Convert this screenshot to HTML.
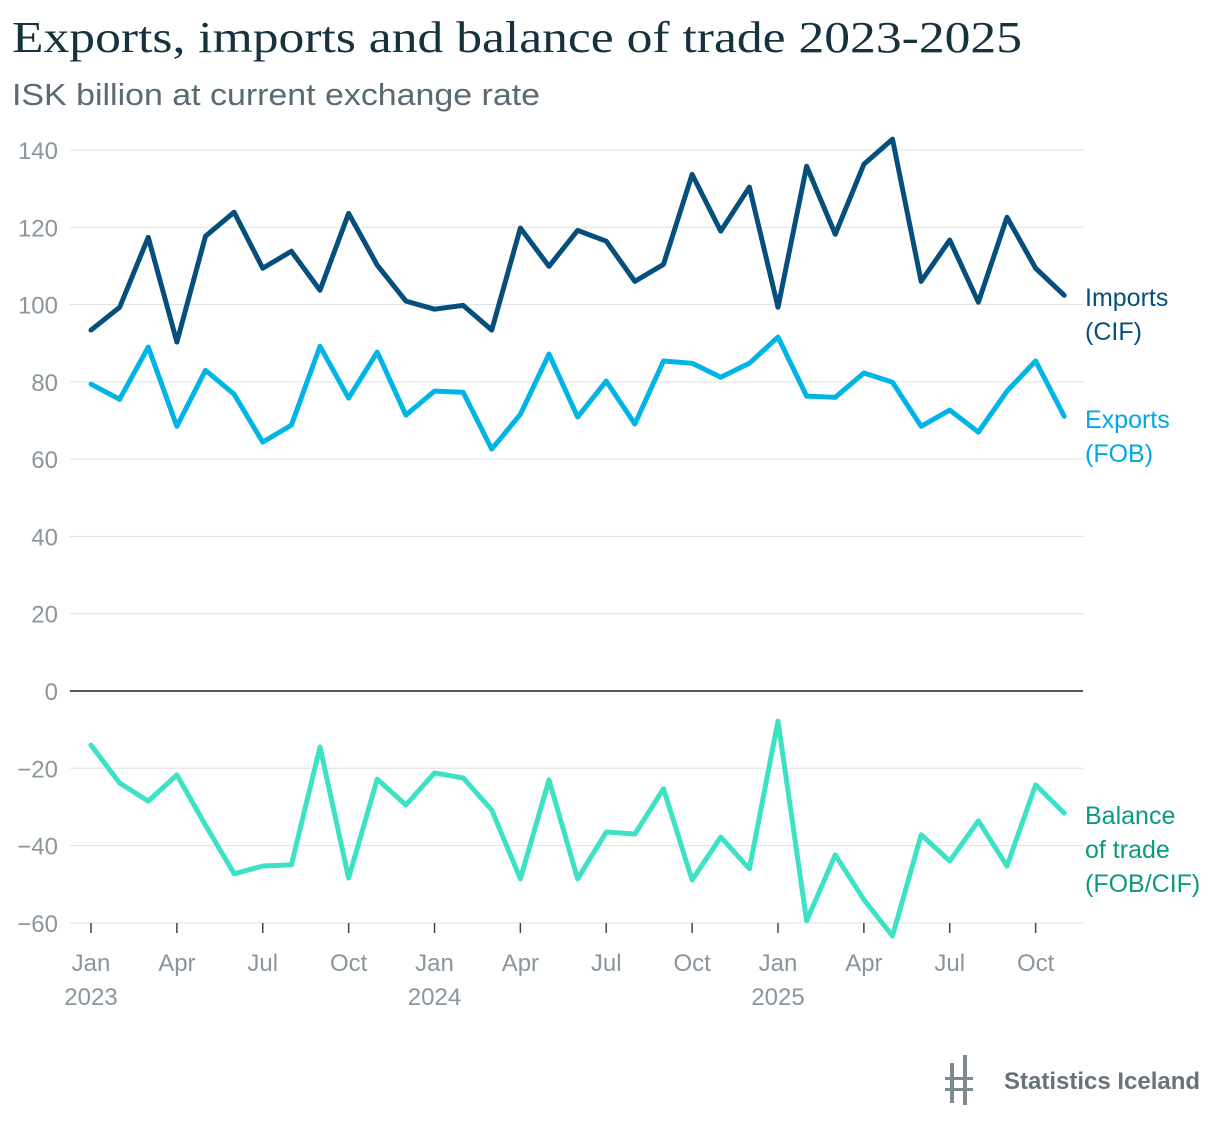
<!DOCTYPE html>
<html><head><meta charset="utf-8">
<style>
body{margin:0;background:#fff;width:1220px;height:1130px;overflow:hidden;font-family:"Liberation Sans",sans-serif}
</style></head><body>
<svg id="chart" width="1220" height="1130" xmlns="http://www.w3.org/2000/svg">
<text x="12" y="52" font-family="Liberation Serif, serif" font-size="44" fill="#17323f" textLength="1010" lengthAdjust="spacingAndGlyphs">Exports, imports and balance of trade 2023-2025</text>
<text x="12" y="105" font-size="31" fill="#5a6a72" textLength="528" lengthAdjust="spacingAndGlyphs">ISK billion at current exchange rate</text>
<g id="grid"></g><g id="xaxis"></g><g id="series"></g>
<g>
<rect x="950" y="1063" width="4" height="40" fill="#7d8a90"/><rect x="963" y="1055" width="4" height="50" fill="#7d8a90"/>
<rect x="945" y="1077" width="28" height="3" fill="#7d8a90"/><rect x="945" y="1088" width="28" height="3" fill="#7d8a90"/>
<text x="1004" y="1089" font-size="24" fill="#66737a" font-weight="bold">Statistics Iceland</text>
</g>
</svg>
<script>
const categories=["2023-01","2023-02","2023-03","2023-04","2023-05","2023-06","2023-07","2023-08","2023-09","2023-10","2023-11","2023-12","2024-01","2024-02","2024-03","2024-04","2024-05","2024-06","2024-07","2024-08","2024-09","2024-10","2024-11","2024-12","2025-01","2025-02","2025-03","2025-04","2025-05","2025-06","2025-07","2025-08","2025-09","2025-10","2025-11"];
const imports=[93.4,99.3,117.4,90.3,117.7,123.9,109.4,113.8,103.7,123.6,110.2,100.9,98.8,99.8,93.4,119.8,109.9,119.2,116.4,106,110.4,133.7,119,130.4,99.3,135.8,118.2,136.3,142.8,106,116.7,100.6,122.6,109.4,102.4];
const exportsFob=[79.4,75.5,89,68.5,83,76.8,64.4,68.8,89.2,75.8,87.7,71.4,77.6,77.3,62.6,71.6,87.2,70.9,80.2,69.1,85.4,84.8,81.2,84.8,91.6,76.3,76,82.3,79.9,68.5,72.7,67,77.6,85.4,71.1];
const balance=[-14,-23.8,-28.5,-21.7,-34.7,-47.3,-45.3,-45,-14.5,-48.4,-22.8,-29.5,-21.2,-22.5,-30.8,-48.6,-23,-48.6,-36.5,-37,-25.3,-48.9,-37.8,-46,-7.8,-59.5,-42.4,-54,-63.4,-37.2,-44,-33.6,-45.3,-24.3,-31.6];
const yTicks=[140,120,100,80,60,40,20,0,-20,-40,-60];
const yTickLabels=["140","120","100","80","60","40","20","0","\u221220","\u221240","\u221260"];
const xTickIdx=[0,3,6,9,12,15,18,21,24,27,30,33];
const xTickLabels=["Jan","Apr","Jul","Oct","Jan","Apr","Jul","Oct","Jan","Apr","Jul","Oct"];
const yearLabels=["2023","2024","2025"];

const NS="http://www.w3.org/2000/svg";
const y=v=>691-(v*(691-150)/140);
const x=i=>91+i*(778-91)/24;
function mk(tag,attrs,parent,text){const e=document.createElementNS(NS,tag);for(const k in attrs)e.setAttribute(k,attrs[k]);if(text!==undefined)e.textContent=text;parent.appendChild(e);return e;}
const grid=document.getElementById('grid'),xa=document.getElementById('xaxis'),ser=document.getElementById('series');
yTicks.forEach((t,i)=>{
 const l=mk('line',{x1:70,x2:1083,y1:y(t),y2:y(t),stroke:t===0?'#222':'#dde1e3','stroke-width':t===0?1.5:1},grid);
 
 
 const tx=mk('text',{x:58,y:y(t)+9,'text-anchor':'end','font-size':24,fill:'#8a969c'},grid,yTickLabels[i]);
 
 
});
xTickIdx.forEach((idx,i)=>{
 const l=mk('line',{x1:x(idx),x2:x(idx),y1:923,y2:933,stroke:'#444','stroke-width':1.5},xa);
 
 
 const t=mk('text',{x:x(idx),y:971,'text-anchor':'middle','font-size':24,fill:'#8a969c'},xa,xTickLabels[i]);
 
 
 if(idx%12===0){const yl=mk('text',{x:x(idx),y:1005,'text-anchor':'middle','font-size':24,fill:'#8a969c'},xa,yearLabels[idx/12]);
 
 }
});
function series(vals,color,name,labelLines,labelColor,ly){
 const p=mk('polyline',{points:vals.map((v,i)=>x(i)+','+y(v)).join(' '),fill:'none',stroke:color,'stroke-width':5,'stroke-linejoin':'round','stroke-linecap':'round'},ser);
 
 
 labelLines.forEach((s,j)=>{const t=mk('text',{x:1085,y:ly+j*34,'font-size':25,fill:labelColor},ser,s);
 
 });
}
series(imports,'#064f7d','imports',['Imports','(CIF)'],'#064f7d',306);
series(exportsFob,'#00b4e6','exports',['Exports','(FOB)'],'#00a9df',428);
series(balance,'#3de2c4','balance',['Balance','of trade','(FOB/CIF)'],'#0a9a7e',824);
</script>
</body></html>
